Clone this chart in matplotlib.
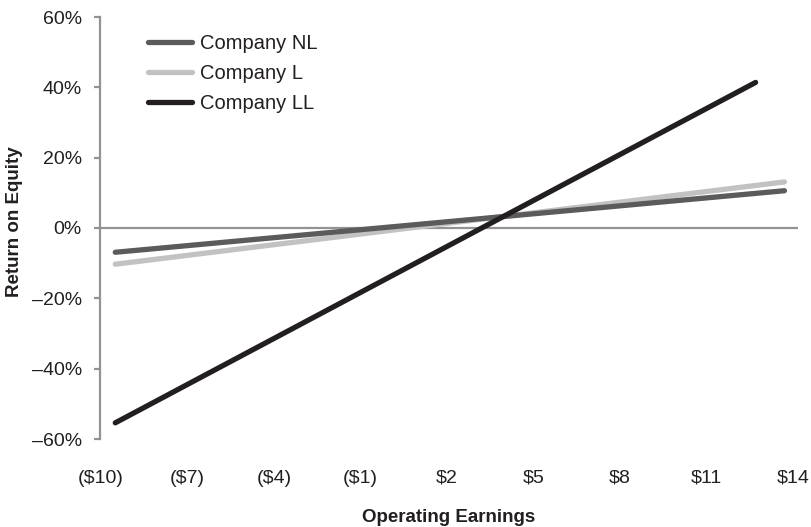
import matplotlib
matplotlib.use("Agg")
import matplotlib.pyplot as plt

plt.rcParams['font.family'] = ['Liberation Sans', 'DejaVu Sans']

# Data (endpoints of straight lines)
x_nl = [-9.5, 13.7]
roe_nl = [-6.9, 10.6]
x_l = [-9.5, 13.7]
roe_l = [-10.3, 13.1]
x_ll = [-9.5, 12.7]
roe_ll = [-55.4, 41.4]

xticks = [-10, -7, -4, -1, 2, 5, 8, 11, 14]
xticklabels = ["($10)", "($7)", "($4)", "($1)", "$2", "$5", "$8", "$11", "$14"]
yticks = [-60, -40, -20, 0, 20, 40, 60]
yticklabels = ["\u201360%", "\u201340%", "\u201320%", "0%", "20%", "40%", "60%"]

W, H = 811, 527
fig = plt.figure(figsize=(W / 100, H / 100), dpi=100)
left, right, top, bottom = 100, 798, 17, 439
ax = fig.add_axes([left / W, 1 - bottom / H, (right - left) / W, (bottom - top) / H])

axis_gray = "#939393"
ax.axhline(0, color=axis_gray, lw=1.6, zorder=1)

l1, = ax.plot(x_nl, roe_nl, color="#5b5b5b", lw=3.8, solid_capstyle="round", label="Company NL", zorder=3)
l2, = ax.plot(x_l, roe_l, color="#c2c2c2", lw=3.8, solid_capstyle="round", label="Company L", zorder=2)
l3, = ax.plot(x_ll, roe_ll, color="#231f20", lw=3.8, solid_capstyle="round", label="Company LL", zorder=4)

ax.set_xlim(-10.03, 14.17)
ax.set_ylim(-60, 60)
ax.set_xticks(xticks)
ax.set_xticklabels(xticklabels)
ax.set_yticks(yticks)
ax.set_yticklabels(yticklabels)

for s in ["top", "right", "bottom"]:
    ax.spines[s].set_visible(False)
ax.spines["left"].set_color(axis_gray)
ax.spines["left"].set_linewidth(1.6)

ax.tick_params(axis="x", length=0, pad=22, labelsize=14, labelcolor="#231f20")
ax.tick_params(axis="y", length=4, width=1.6, color=axis_gray, pad=9, labelsize=14, labelcolor="#231f20")

leg = fig.legend(handles=[l1, l2, l3], loc="upper left",
                 bbox_to_anchor=(148 / W, 1 - 34 / H), frameon=False,
                 fontsize=14.5, handlelength=2.2, handletextpad=0.4,
                 labelspacing=0.55, borderpad=0, borderaxespad=0)
for t in leg.get_texts():
    t.set_color("#231f20")

fig.text(15 / W, 1 - 222 / H, "Return on Equity", rotation=90, ha="center", va="center",
         fontsize=13.5, fontweight="bold", color="#231f20")
fig.text(449 / W, 1 - 517 / H, "Operating Earnings", ha="center", va="center",
         fontsize=13.5, fontweight="bold", color="#231f20")

fig.savefig("out.png", dpi=100)
